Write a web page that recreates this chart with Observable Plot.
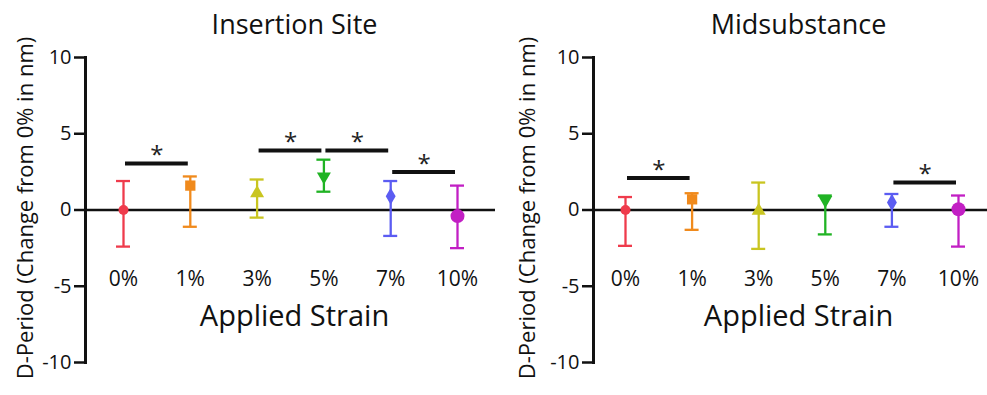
<!DOCTYPE html>
<html><head><meta charset="utf-8">
<script src="https://cdn.jsdelivr.net/npm/d3@7"></script>
<script src="https://cdn.jsdelivr.net/npm/@observablehq/plot@0.6"></script>
<style>
body{margin:0;background:#fff;}
#wrap{position:relative;width:987px;height:395px;overflow:hidden;}
#wrap>div{position:absolute;top:0;}
#a{left:0;} #b{left:495px;}
</style></head><body><div id="wrap"><div id="a"></div><div id="b"></div></div>
<script>
// ---- data ----
const strains = ["0%", "1%", "3%", "5%", "7%", "10%"];
const yTicks = [-10, -5, 0, 5, 10];
const panelTitles = ["Insertion Site", "Midsubstance"];
const yLabel = "D-Period (Change from 0% in nm)";
const xLabel = "Applied Strain";

const insertionMean = [0, 1.6, 1.1, 2.2, 0.9, -0.4];
const insertionLow  = [-2.4, -1.1, -0.5, 1.2, -1.7, -2.5];
const insertionHigh = [1.9, 2.2, 2.0, 3.3, 1.9, 1.6];
// significance brackets: [from index, to index, height]
const insertionSig = [[0, 1, 3.05], [2, 3, 3.9], [3, 4, 3.9], [4, 5, 2.5]];

const midMean = [0, 0.7, -0.05, 0.65, 0.5, 0.05];
const midLow  = [-2.35, -1.3, -2.55, -1.6, -1.1, -2.4];
const midHigh = [0.85, 1.1, 1.8, 0.95, 1.05, 0.95];
const midSig = [[0, 1, 2.1], [4, 5, 1.8]];

// ---- styles ----
const colors = ["#ef3b4c", "#f08a1c", "#c9c520", "#20b324", "#5b5cf2", "#c21fc4"];
const sqrt3 = Math.sqrt(3);
const triangleDown = {
  draw(ctx, size) {
    const y = -Math.sqrt(size / (sqrt3 * 3));
    ctx.moveTo(0, -y * 2);
    ctx.lineTo(-sqrt3 * y, y);
    ctx.lineTo(sqrt3 * y, y);
    ctx.closePath();
  }
};
const symbols = ["circle", "square", "triangle", triangleDown, "diamond", "circle"];
const markerR = [5, 5.8, 5.2, 5.2, 5.2, 7];
const FONT = "'Open Sans', sans-serif";

function panel({title, mean, low, high, sig, width, marginLeft, xRange, titleDx, yLabelDx}) {
  const rows = strains.map((s, i) => ({i, mean: mean[i], low: low[i], high: high[i]}));
  const bars = sig.map(([a, b, y]) => ({a, b, y}));
  return Plot.plot({
    width, height: 395,
    marginLeft, marginRight: 0, marginTop: 57, marginBottom: 33,
    x: {domain: [0, strains.length - 1], range: xRange},
    y: {domain: [-10, 10]},
    style: {fontFamily: FONT, background: "transparent", overflow: "visible", color: "#111"},
    marks: [
      Plot.frame({anchor: "left", strokeWidth: 3}),
      Plot.axisY({ticks: yTicks, tickFormat: d => String(d), tickSize: 11, tickPadding: 3,
        strokeWidth: 2.5, fontSize: 20, label: null}),
      Plot.axisX({ticks: d3.range(strains.length), tickFormat: i => strains[i], tickSize: 0,
        tickPadding: 3, fontSize: 21, dy: -94, label: null}),
      Plot.ruleY([0], {strokeWidth: 2.5}),
      Plot.ruleX(rows, {x: "i", y1: "low", y2: "high", stroke: d => colors[d.i], strokeWidth: 2.3}),
      Plot.ruleY(rows, {x1: "i", x2: "i", y: "high", stroke: d => colors[d.i], strokeWidth: 2.3, insetLeft: -7, insetRight: -7}),
      Plot.ruleY(rows, {x1: "i", x2: "i", y: "low", stroke: d => colors[d.i], strokeWidth: 2.3, insetLeft: -7, insetRight: -7}),
      ...rows.map(d => Plot.dot([d], {x: "i", y: "mean", fill: colors[d.i], symbol: symbols[d.i], r: markerR[d.i]})),
      Plot.ruleY(bars, {x1: "a", x2: "b", y: "y", strokeWidth: 4, insetLeft: 2, insetRight: 2}),
      Plot.text(bars, {x: d => (d.a + d.b) / 2, y: "y", text: () => "*", fontSize: 24, dy: -8, lineAnchor: "middle", fill: "#222"}),
      Plot.text([title], {frameAnchor: "top", dy: -32, dx: titleDx, fontSize: 27, lineAnchor: "middle"}),
      Plot.text([xLabel], {frameAnchor: "bottom", dy: -46, dx: titleDx, fontSize: 29, lineAnchor: "middle"}),
      Plot.text([yLabel], {frameAnchor: "left", rotate: -90, dx: yLabelDx, dy: -2, fontSize: 22, textAnchor: "middle", lineAnchor: "middle"})
    ]
  });
}

document.getElementById("a").append(panel({
  title: panelTitles[0], mean: insertionMean, low: insertionLow, high: insertionHigh, sig: insertionSig,
  width: 495, marginLeft: 85, xRange: [123, 457], titleDx: 4, yLabelDx: -60
}));
document.getElementById("b").append(panel({
  title: panelTitles[1], mean: midMean, low: midLow, high: midHigh, sig: midSig,
  width: 492, marginLeft: 98, xRange: [130, 463], titleDx: 8, yLabelDx: -66
}));
</script></body></html>
